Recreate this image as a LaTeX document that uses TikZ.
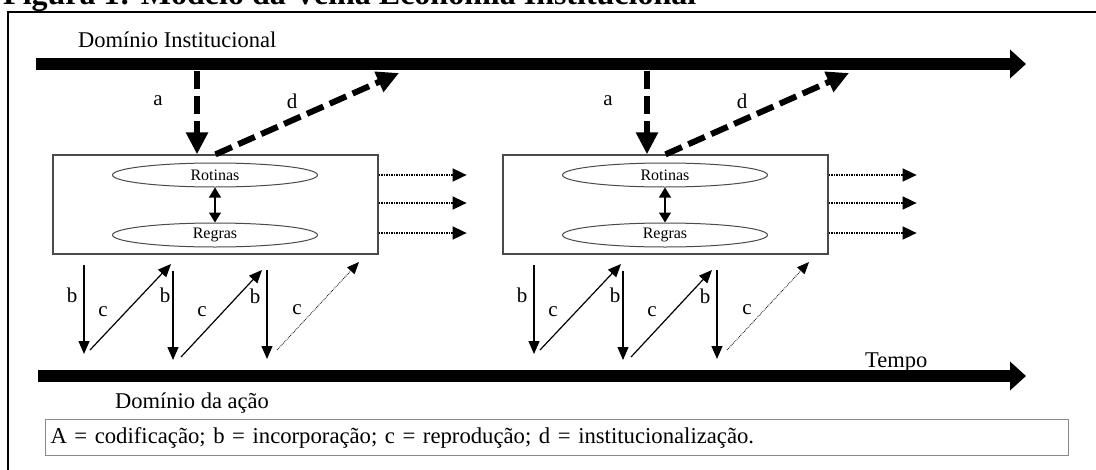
\documentclass[tikz,border=0pt]{standalone}
\usepackage{fontspec}
\setmainfont{Liberation Serif}
\usetikzlibrary{arrows.meta, positioning, shapes.geometric}
\definecolor{Box_Gray}{HTML}{4A4A4A}
\definecolor{Legend_Gray}{HTML}{8A8A8A}

\tikzset{
    bigarrow/.style={line width=12pt, -{Triangle[length=16pt,width=28pt]}},
    dasharrow/.style={line width=6pt, dash pattern=on 18pt off 7pt, -{Triangle[length=22pt,width=21pt]}},
    dotarrow/.style={line width=1.5pt, densely dotted, -{Triangle[length=14pt,width=13pt]}},
    thinarrow/.style={line width=1.2pt, -{Triangle[length=13pt,width=11pt]}},
    faintarrow/.style={line width=0.8pt, densely dotted, -{Triangle[length=12pt,width=10pt]}},
    dblarrow/.style={line width=1.2pt, {Triangle[length=10pt,width=12pt]}-{Triangle[length=10pt,width=12pt]}},
    routbox/.style={draw=Box_Gray, line width=1.3pt, minimum width=325pt, minimum height=99pt, inner sep=0pt},
    ell/.style={ellipse, draw=Box_Gray, line width=1pt, minimum width=205pt, minimum height=24pt, inner sep=0pt, font=\fontsize{16}{17}\selectfont},
    lbl/.style={font=\fontsize{21}{23}\selectfont, inner sep=0pt},
    domtext/.style={font=\fontsize{22.5}{25}\selectfont, inner sep=0pt},
    legendbox/.style={draw=Legend_Gray, line width=1pt, text width=1013pt, inner xsep=5pt, inner ysep=0pt, minimum height=36pt, align=left, font=\fontsize{22.7}{25}\selectfont}
}

\begin{document}
\begin{tikzpicture}[x=1pt, y=-1pt, >=Stealth]
    \useasboundingbox (0,0) rectangle (1096,469);

    % Title and frame
    \node[anchor=base west, inner sep=0pt, font=\bfseries\fontsize{32}{34}\selectfont] (title) at (3,4) {Figura 1: Modelo da Velha Economia Institucional};
    \draw[line width=2pt] (8,470) -- (8,12) -- (1100,12);

    % Time axes
    \coordinate (instL) at (36,64);
    \coordinate (instR) at (1026,64);
    \draw[bigarrow] (instL) -- (instR);
    \node[domtext, anchor=west] (instdom) at (78,40) {Domínio Institucional};

    \coordinate (acaoL) at (38,376);
    \coordinate (acaoR) at (1026,376);
    \draw[bigarrow] (acaoL) -- (acaoR);
    \node[domtext, anchor=base west] (tempo) at (865,367) {Tempo};
    \node[domtext, anchor=west] (acaodom) at (115,403) {Domínio da ação};

    % Two rounds of routines and rules
    \foreach \s/\n in {0/1, 450/2} {
        \begin{scope}[xshift=\s pt]
            \node[routbox] (box\n) at (215.5,204.5) {};
            \node[ell] (rot\n) at (215,175) {Rotinas};
            \node[ell] (reg\n) at (215,235) {Regras};
            \draw[dblarrow] (rot\n.south) -- (reg\n.north);

            % codification and institutionalization
            \coordinate (atop\n) at (197,71);
            \coordinate (dtop\n) at (399,73);
            \draw[dasharrow] (atop\n) -- (atop\n |- box\n.north);
            \draw[dasharrow] (box\n.north) -- (dtop\n);
            \node[lbl] (la\n) at (158,101) {a};
            \node[lbl] (ld\n) at (292,101) {d};

            % outputs
            \foreach \d [count=\k] in {29.5, 1.5, -28.5} {
                \coordinate (out\n\k) at ([xshift=88pt, yshift=\d pt]box\n.east);
                \draw[dotarrow] ([yshift=\d pt]box\n.east) -- (out\n\k);
            }

            % incorporation and reproduction
            \foreach \bx/\bt/\bb [count=\k] in {84/265/354, 173/271/360, 267/270/359} {
                \coordinate (bs\n\k) at (\bx,\bt);
                \coordinate (be\n\k) at (\bx,\bb);
                \draw[thinarrow] (bs\n\k) -- (be\n\k);
            }
            \foreach \cx/\cy/\ex/\ey [count=\k] in {90/350/171/264, 181/357/262/270} {
                \coordinate (cs\n\k) at (\cx,\cy);
                \coordinate (ce\n\k) at (\ex,\ey);
                \draw[thinarrow] (cs\n\k) -- (ce\n\k);
            }
            \coordinate (cs\n3) at (277,350);
            \coordinate (ce\n3) at (359,262);
            \draw[faintarrow] (cs\n3) -- (ce\n3);

            \foreach \lx/\ly/\lt [count=\k] in {72/295/b, 103/312/c, 165/295/b, 202/312/c, 255/296/b, 297/310/c} {
                \node[lbl] (lz\n\k) at (\lx,\ly) {\lt};
            }
        \end{scope}
    }

    % Legend
    \node[legendbox, anchor=north west] (legend) at (45,419) {A = codificação; b = incorporação; c = reprodução; d = institucionalização.};
\end{tikzpicture}
\end{document}
